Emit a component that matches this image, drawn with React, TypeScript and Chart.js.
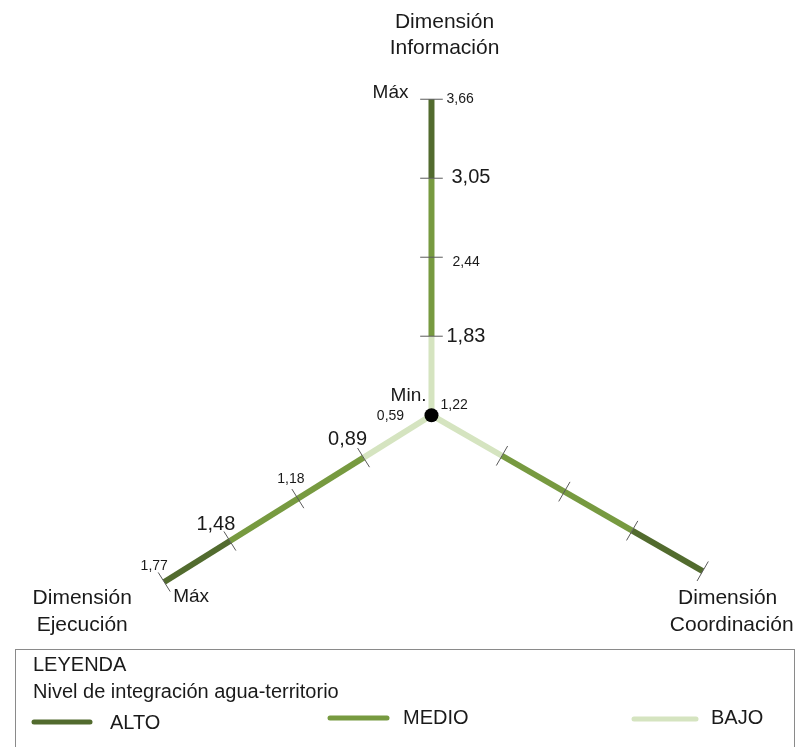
import { useEffect, useRef } from "react";
import { Chart, registerables } from "chart.js";

Chart.register(...registerables);

// Integration levels (legend order)
const levelNames = ["ALTO", "MEDIO", "BAJO"];
const levelColors = ["#526b2e", "#779a40", "#d5e4c0"];

// Dimensión Información
const infoTicks = [1.22, 1.83, 2.44, 3.05, 3.66];
const infoTickLabels = ["1,22", "1,83", "2,44", "3,05", "3,66"];
const infoBreaks = [1.22, 1.83, 3.05, 3.66]; // BAJO | MEDIO | ALTO

// Dimensión Ejecución
const ejeTicks = [0.59, 0.89, 1.18, 1.48, 1.77];
const ejeTickLabels = ["0,59", "0,89", "1,18", "1,48", "1,77"];
const ejeBreaks = [0.59, 0.89, 1.48, 1.77]; // BAJO | MEDIO | ALTO

// Dimensión Coordinación (relative scale, unlabelled)
const coordTicks = [0, 0.26, 0.49, 0.74, 1];
const coordBreaks = [0, 0.26, 0.74, 1]; // BAJO | MEDIO | ALTO

// level index of each segment, from the centre outwards
const segmentLevels = [2, 1, 0];

const FONT = "'Liberation Sans', Arial, Helvetica, sans-serif";
const TEXT = "#1a1a1a";

// ---- layout (page units; scales map 1:1 to the canvas) ----
const W = 805;
const H = 747;
const CENTER = { x: 432, y: 416 };
type Axis = { min: number; max: number; dx: number; dy: number };
const infoAxis: Axis = { min: 1.22, max: 3.66, dx: 0, dy: -322 };
const ejeAxis: Axis = { min: 0.59, max: 1.77, dx: -272, dy: 170 };
const coordAxis: Axis = { min: 0, max: 1, dx: 276, dy: 159 };
const TICK_HALF = 11.5;

const along = (a: Axis, v: number) => {
  const f = (v - a.min) / (a.max - a.min);
  return { x: CENTER.x + a.dx * f, y: CENTER.y + a.dy * f };
};

const tickMark = (a: Axis, v: number) => {
  const p = along(a, v);
  const len = Math.hypot(a.dx, a.dy);
  const nx = -a.dy / len;
  const ny = a.dx / len;
  return [
    { x: p.x - nx * TICK_HALF, y: p.y - ny * TICK_HALF },
    { x: p.x + nx * TICK_HALF, y: p.y + ny * TICK_HALF },
  ];
};

function buildDatasets() {
  const ds: any[] = [];
  // centre point (first = drawn on top)
  ds.push({
    type: "scatter",
    data: [{ x: CENTER.x, y: CENTER.y }],
    pointRadius: 7,
    pointBackgroundColor: "#000",
    pointBorderWidth: 0,
  });
  const axes: [Axis, number[], number[]][] = [
    [infoAxis, infoTicks, infoBreaks],
    [ejeAxis, ejeTicks, ejeBreaks],
    [coordAxis, coordTicks, coordBreaks],
  ];
  axes.forEach(([a, ticks]) => {
    ticks.slice(1).forEach((t) => {
      ds.push({
        type: "line",
        data: tickMark(a, t),
        borderColor: "#5a5a5a",
        borderWidth: 1,
        pointRadius: 0,
      });
    });
  });
  axes.forEach(([a, , breaks]) => {
    for (let i = 0; i < breaks.length - 1; i++) {
      ds.push({
        type: "line",
        data: [along(a, breaks[i]), along(a, breaks[i + 1])],
        borderColor: levelColors[segmentLevels[i]],
        borderWidth: 6,
        borderCapStyle: "butt",
        pointRadius: 0,
      });
    }
  });
  return ds;
}

// label offsets relative to the tick they name: [dx, dy, size, align]
const infoLabelLayout: [number, number, number, CanvasTextAlign][] = [
  [9, -10, 14, "left"],
  [15, 0, 20, "left"],
  [21, 5, 14, "left"],
  [20, -1, 20, "left"],
  [15, 0, 14, "left"],
];
const ejeLabelLayout: [number, number, number, CanvasTextAlign][] = [
  [-41, 1, 14, "center"],
  [-16, -18, 20, "center"],
  [-7, -19, 14, "center"],
  [-14, -17, 20, "center"],
  [-10, -16, 14, "center"],
];

const textPlugin = {
  id: "diagramText",
  afterDraw(chart: any) {
    const { ctx } = chart;
    const xs = chart.scales.x;
    const ys = chart.scales.y;
    const px = (p: { x: number; y: number }) => ({
      x: xs.getPixelForValue(p.x),
      y: ys.getPixelForValue(p.y),
    });
    const put = (
      s: string,
      x: number,
      y: number,
      size: number,
      align: CanvasTextAlign = "left",
      color = TEXT
    ) => {
      ctx.font = `${size}px ${FONT}`;
      ctx.fillStyle = color;
      ctx.textAlign = align;
      ctx.textBaseline = "middle";
      ctx.fillText(s, x, y);
    };
    ctx.save();

    // tick values
    infoTicks.forEach((t, i) => {
      const p = px(along(infoAxis, t));
      const [dx, dy, size, align] = infoLabelLayout[i];
      put(infoTickLabels[i], p.x + dx, p.y + dy, size, align);
    });
    ejeTicks.forEach((t, i) => {
      const p = px(along(ejeAxis, t));
      const [dx, dy, size, align] = ejeLabelLayout[i];
      put(ejeTickLabels[i], p.x + dx, p.y + dy, size, align);
    });

    // Máx / Min. markers
    const top = px(along(infoAxis, infoAxis.max));
    put("Máx", top.x - 23, top.y - 6, 19, "right");
    const c = px(CENTER);
    put("Min.", c.x - 5, c.y - 19, 19, "right");
    const ej = px(along(ejeAxis, ejeAxis.max));
    put("Máx", ej.x + 9, ej.y + 15, 19, "left");

    // dimension titles
    put("Dimensión", top.x + 13, 22, 21, "center");
    put("Información", top.x + 13, 48, 21, "center");
    put("Dimensión", ej.x - 82, 598, 21, "center");
    put("Ejecución", ej.x - 82, 625, 21, "center");
    const co = px(along(coordAxis, coordAxis.max));
    put("Dimensión", co.x + 25, 598, 21, "center");
    put("Coordinación", co.x + 29, 625, 21, "center");

    // legend box
    ctx.strokeStyle = "#8a8a8a";
    ctx.lineWidth = 1;
    ctx.strokeRect(15.5, 649.5, 779, 120);
    put("LEYENDA", 33, 665, 20);
    put("Nivel de integración agua-territorio", 33, 692, 20);
    const items = [
      { x0: 34, x1: 90, ly: 722, tx: 110, ty: 723 },
      { x0: 330, x1: 387, ly: 718, tx: 403, ty: 718 },
      { x0: 634, x1: 696, ly: 719, tx: 711, ty: 718 },
    ];
    items.forEach((it, i) => {
      ctx.strokeStyle = levelColors[i];
      ctx.lineWidth = 5;
      ctx.lineCap = "round";
      ctx.beginPath();
      ctx.moveTo(it.x0, it.ly);
      ctx.lineTo(it.x1, it.ly);
      ctx.stroke();
      put(levelNames[i], it.tx, it.ty, 20);
    });
    ctx.restore();
  },
};

export default function App() {
  const ref = useRef<HTMLCanvasElement | null>(null);
  useEffect(() => {
    if (!ref.current) return;
    const chart = new Chart(ref.current, {
      type: "line",
      data: { datasets: buildDatasets() },
      options: {
        animation: false,
        responsive: false,
        events: [],
        layout: { padding: 0 },
        plugins: {
          legend: { display: false },
          tooltip: { enabled: false },
          title: { display: false },
        },
        scales: {
          x: { type: "linear", min: 0, max: W, display: false },
          y: { type: "linear", min: 0, max: H, reverse: true, display: false },
        },
      },
      plugins: [textPlugin],
    } as any);
    return () => chart.destroy();
  }, []);
  return (
    <canvas
      ref={ref}
      width={W}
      height={H}
      style={{ position: "fixed", left: 0, top: 0, display: "block", background: "#fff" }}
    />
  );
}
